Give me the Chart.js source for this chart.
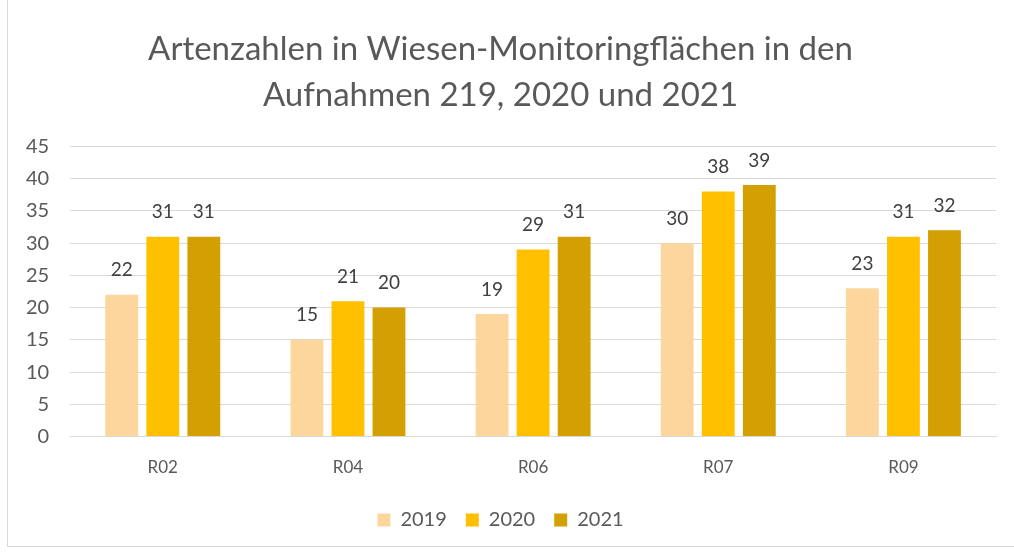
<!DOCTYPE html>
<html>
<head>
<meta charset="utf-8">
<script src="https://cdn.jsdelivr.net/npm/chart.js@4/dist/chart.umd.min.js"></script>
<style>
  html, body { margin: 0; padding: 0; background: #fff; }
  #frame { position: absolute; left: 7px; top: -1px; width: 1010px; height: 548px; border: 1px solid #d9d9d9; box-sizing: border-box; }
  #wrap { position: absolute; left: 0; top: 0; width: 1014px; height: 554px; }
</style>
</head>
<body>
<div id="frame"></div>
<div id="wrap"><canvas id="chart" width="1014" height="554"></canvas></div>
<script>
// Daten aus der Grafik
const flaechen = ["R02", "R04", "R06", "R07", "R09"];
const jahre = ["2019", "2020", "2021"];
const werte2019 = [22, 15, 19, 30, 23];
const werte2020 = [31, 21, 29, 38, 31];
const werte2021 = [31, 20, 31, 39, 32];
const farben = ["#FDD69E", "#FFC000", "#D49F00"];

const fontFamily = "Lato, 'Open Sans', 'Liberation Sans', sans-serif";

// Datenbeschriftungen über den Balken
const wertLabels = {
    id: "wertLabels",
    afterDatasetsDraw(chart) {
        const ctx = chart.ctx;
        ctx.save();
        ctx.fillStyle = "#404040";
        ctx.font = "19px " + fontFamily;
        ctx.textAlign = "center";
        ctx.textBaseline = "bottom";
        chart.data.datasets.forEach((ds, i) => {
            chart.getDatasetMeta(i).data.forEach((bar, j) => {
                ctx.fillText(ds.data[j], bar.x, bar.y - 15);
            });
        });
        ctx.restore();
    }
};

new Chart(document.getElementById("chart"), {
    type: "bar",
    data: {
        labels: flaechen,
        datasets: [werte2019, werte2020, werte2021].map((d, i) => ({
            label: jahre[i],
            data: d,
            backgroundColor: farben[i],
            categoryPercentage: 0.665,
            barPercentage: 0.8
        }))
    },
    options: {
        responsive: false,
        animation: false,
        layout: { padding: { left: 5, right: 18, top: 16, bottom: 14 } },
        plugins: {
            title: {
                display: true,
                text: ["Artenzahlen in Wiesen-Monitoringflächen in den", "Aufnahmen 219, 2020 und 2021"],
                color: "#595959",
                font: { family: fontFamily, size: 33, weight: "normal", lineHeight: 1.4 },
                padding: { top: 10, bottom: 28 }
            },
            legend: {
                position: "bottom",
                labels: {
                    color: "#595959",
                    font: { family: fontFamily, size: 20 },
                    boxWidth: 13,
                    boxHeight: 13,
                    padding: 19
                }
            },
            tooltip: { enabled: false }
        },
        scales: {
            x: {
                grid: { display: false },
                border: { color: "#d9d9d9" },
                ticks: { color: "#595959", font: { family: fontFamily, size: 17 }, padding: 13 }
            },
            y: {
                min: 0,
                max: 45,
                ticks: { stepSize: 5, color: "#595959", font: { family: fontFamily, size: 20 }, padding: 21 },
                grid: { color: "#d9d9d9", drawTicks: false },
                border: { display: false }
            }
        }
    },
    plugins: [wertLabels]
});
</script>
</body>
</html>
